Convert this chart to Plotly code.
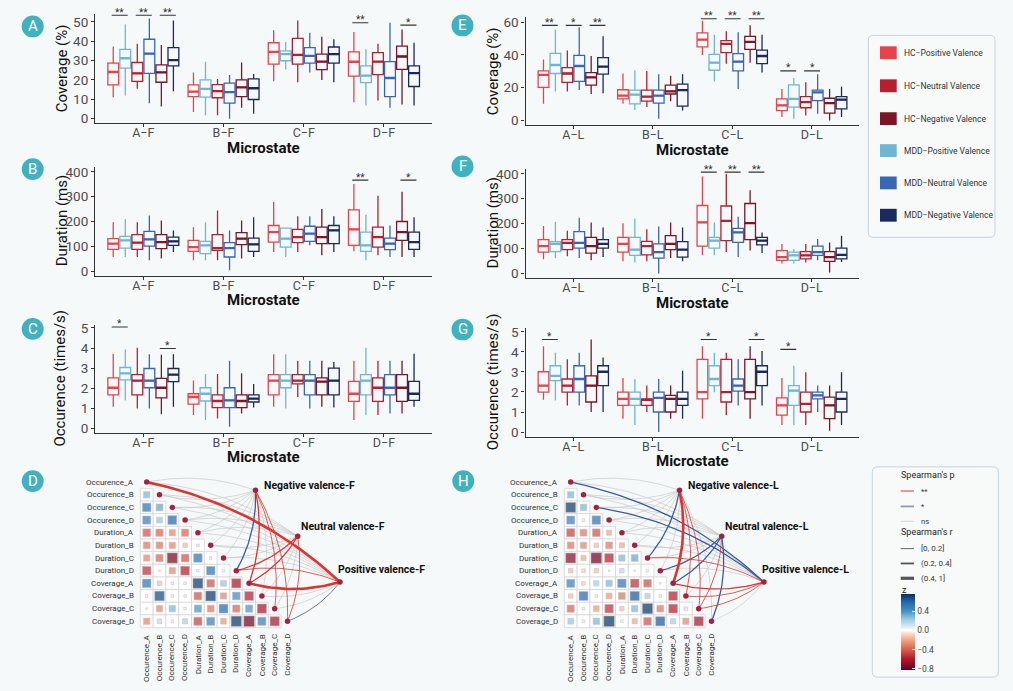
import math
import plotly.graph_objects as go

W, H = 1013, 691
BG = "#f6f9f9"
FONT = "Roboto"

# ---------------- data ----------------
SERIES = ["HC−Positive Valence", "HC−Neutral Valence", "HC−Negative Valence",
          "MDD−Positive Valence", "MDD−Neutral Valence", "MDD−Negative Valence"]
SERIES_COLORS = ["#e8434a", "#b81e2e", "#7c1526", "#6db7d4", "#3967b6", "#1a2a5e"]
BOX_ORDER = [0, 3, 1, 4, 2, 5]   # order of boxes inside each microstate group

CATS_F = ["A−F", "B−F", "C−F", "D−F"]
CATS_L = ["A−L", "B−L", "C−L", "D−L"]

# stats per microstate (rows) x box (cols, in BOX_ORDER)
A_lo = [[11.1, 11.9, 15.4, 8.0, 6.3, 14.2], [3.4, 1.7, 1.7, 0.0, 5.6, 2.6],
        [19.3, 25.4, 18.8, 23.9, 20.0, 18.8], [8.5, 6.8, 9.4, 5.6, 7.3, 6.8]]
A_q1 = [[17.4, 26.1, 19.3, 23.4, 18.8, 27.3], [11.4, 11.1, 10.8, 8.0, 11.4, 9.9],
        [28.2, 29.9, 28.2, 28.7, 25.3, 28.7], [22.0, 18.6, 22.7, 11.4, 25.4, 16.6]]
A_med = [[24.1, 31.2, 23.4, 33.6, 23.9, 30.2], [14.0, 15.4, 14.2, 13.7, 16.2, 15.7],
         [34.5, 33.3, 32.9, 32.4, 29.5, 33.3], [29.4, 22.2, 29.5, 21.0, 32.1, 23.5]]
A_q3 = [[28.7, 35.8, 29.0, 41.0, 27.8, 36.7], [17.4, 20.0, 17.6, 18.3, 20.0, 20.5],
        [39.2, 35.0, 41.5, 36.7, 33.3, 37.0], [34.5, 27.3, 34.1, 29.5, 37.5, 27.3]]
A_hi = [[37.2, 48.6, 38.7, 51.7, 38.0, 50.7], [23.9, 29.4, 20.5, 22.5, 29.0, 23.0],
        [45.6, 39.6, 50.7, 44.4, 42.3, 41.0], [44.7, 35.8, 38.7, 49.5, 46.0, 39.2]]

B_lo = [[57, 57, 57, 44, 51, 77], [44, 44, 44, 4, 51, 57],
        [77, 57, 77, 104, 64, 77], [80, 44, 64, 57, 57, 57]]
B_q1 = [[88, 93, 88, 101, 91, 104], [80, 71, 84, 57, 107, 80],
        [117, 97, 115, 120, 111, 111], [104, 80, 97, 87, 124, 88]]
B_med = [[111, 124, 115, 128, 117, 120], [97, 104, 93, 93, 131, 108],
         [157, 131, 137, 151, 137, 164], [168, 104, 137, 111, 157, 117]]
B_q3 = [[131, 140, 147, 160, 147, 137], [124, 120, 147, 115, 155, 133],
        [184, 173, 168, 181, 177, 184], [247, 157, 177, 133, 200, 157]]
B_hi = [[197, 210, 197, 224, 204, 164], [177, 197, 244, 164, 204, 217],
        [280, 176, 221, 221, 250, 221], [351, 227, 304, 184, 320, 217]]

C_lo = [[1.07, 1.39, 0.98, 0.98, 0.70, 1.07], [0.66, 0.41, 0.49, 0.08, 0.74, 1.03],
        [1.07, 0.98, 1.56, 0.98, 1.07, 1.03], [0.41, 0.66, 0.66, 0.74, 0.74, 1.07]]
C_q1 = [[1.67, 2.41, 1.67, 2.02, 1.52, 2.33], [1.20, 1.36, 1.03, 1.03, 1.03, 1.31],
        [1.67, 2.02, 2.21, 1.67, 1.67, 1.67], [1.34, 1.67, 1.34, 1.67, 1.34, 1.39]]
C_med = [[2.02, 2.74, 2.38, 2.38, 2.02, 2.67], [1.56, 1.72, 1.36, 1.39, 1.36, 1.48],
         [2.38, 2.38, 2.38, 2.38, 2.33, 2.38], [1.72, 2.38, 2.02, 2.02, 2.02, 1.72]]
C_q3 = [[2.51, 3.03, 2.67, 2.98, 2.49, 2.98], [1.72, 2.02, 1.67, 2.02, 1.67, 1.67],
        [2.67, 2.67, 2.67, 2.67, 2.51, 3.00], [2.34, 2.67, 2.51, 2.67, 2.67, 2.34]]
C_hi = [[3.72, 3.93, 4.02, 3.69, 3.66, 3.69], [2.38, 2.70, 2.70, 3.36, 2.74, 2.21],
        [3.69, 3.69, 3.36, 3.36, 3.36, 3.31], [3.36, 4.02, 3.36, 3.36, 3.36, 3.72]]

E_lo = [[10.1, 17.7, 17.7, 18.5, 16.1, 16.5], [10.1, 6.4, 8.1, 1.0, 11.7, 6.0],
        [39.9, 23.8, 34.6, 19.1, 35.2, 29.2], [2.0, 1.0, 3.0, 4.0, 0.0, 2.0]]
E_q1 = [[20.1, 28.6, 23.2, 23.8, 21.5, 28.2], [13.1, 10.1, 11.7, 10.5, 16.1, 8.7],
        [44.9, 30.6, 41.3, 30.2, 43.3, 34.6], [6.0, 8.1, 7.7, 12.1, 4.4, 7.0]]
E_med = [[27.8, 33.8, 28.6, 33.2, 26.2, 32.8], [15.1, 15.7, 14.5, 15.1, 17.7, 18.5],
         [49.3, 35.2, 46.7, 35.8, 47.9, 39.3], [9.1, 13.1, 11.1, 17.1, 10.5, 12.7]]
E_q3 = [[30.2, 40.9, 32.2, 39.7, 29.2, 38.3], [18.7, 18.5, 18.5, 18.5, 21.5, 22.1],
        [53.4, 40.3, 48.7, 40.7, 51.3, 42.9], [13.1, 21.7, 14.5, 18.5, 13.5, 14.5]]
E_hi = [[37.2, 55.4, 42.7, 56.8, 39.3, 51.3], [28.6, 30.6, 30.2, 28.2, 27.2, 28.2],
        [60.8, 52.3, 54.4, 53.8, 58.0, 52.3], [19.1, 25.8, 23.2, 28.2, 19.1, 20.5]]

F_lo = [[57, 62, 69, 62, 53, 66], [49, 44, 49, 0, 62, 49],
        [73, 73, 86, 66, 92, 82], [40, 40, 44, 53, 4, 46]]
F_q1 = [[86, 88, 96, 102, 82, 102], [86, 73, 75, 62, 96, 66],
        [110, 102, 132, 125, 136, 115], [53, 53, 59, 73, 49, 59]]
F_med = [[110, 119, 123, 123, 110, 119], [119, 96, 110, 86, 119, 96],
         [205, 132, 211, 165, 202, 132], [66, 73, 73, 86, 66, 75]]
F_q3 = [[136, 128, 136, 168, 145, 136], [145, 145, 129, 119, 152, 128],
        [273, 145, 271, 181, 281, 145], [92, 86, 88, 110, 88, 102]]
F_hi = [[191, 207, 172, 224, 205, 185], [202, 221, 178, 189, 205, 185],
        [389, 205, 400, 228, 334, 165], [119, 99, 119, 139, 125, 152]]

G_lo = [[1.61, 1.58, 1.33, 1.33, 1.00, 1.00], [0.67, 0.35, 1.00, 0.00, 0.67, 0.67],
        [0.67, 1.99, 0.84, 1.33, 0.67, 1.33], [0.35, 0.35, 0.35, 1.00, 0.07, 0.35]]
G_q1 = [[1.99, 2.57, 1.99, 1.99, 1.50, 2.32], [1.33, 1.33, 1.33, 1.00, 1.00, 1.33],
        [1.66, 2.32, 1.50, 2.04, 1.66, 2.32], [0.84, 1.33, 1.00, 1.66, 0.67, 1.00]]
G_med = [[2.32, 2.81, 2.32, 2.65, 2.32, 3.01], [1.66, 1.66, 1.61, 1.71, 1.66, 1.66],
         [1.99, 2.65, 1.99, 2.32, 1.99, 3.01], [1.33, 2.07, 1.41, 1.83, 1.33, 1.66]]
G_q3 = [[3.01, 3.31, 2.65, 3.31, 2.81, 3.31], [1.99, 1.99, 1.66, 1.99, 1.83, 1.99],
        [3.63, 3.31, 3.63, 2.65, 3.63, 3.31], [1.71, 2.32, 1.99, 1.99, 1.74, 1.99]]
G_hi = [[4.29, 3.96, 3.63, 3.96, 4.62, 3.72], [2.70, 2.65, 2.32, 2.65, 2.32, 3.06],
        [4.29, 3.96, 3.96, 3.63, 4.29, 4.05], [2.70, 3.31, 2.98, 2.32, 2.32, 2.98]]

# significance: (microstate index, valence pair index, bar height, label)
A_SIG = [(0, 0, 53.4, "**"), (0, 1, 53.4, "**"), (0, 2, 53.4, "**"), (3, 0, 49.5, "**"), (3, 2, 48.3, "*")]
B_SIG = [(3, 0, 366.7, "**"), (3, 2, 366.7, "*")]
C_SIG = [(0, 0, 5.05, "*"), (0, 2, 3.98, "*")]
E_SIG = [(0, 0, 58, "**"), (0, 1, 58, "*"), (0, 2, 58, "**"), (2, 0, 62, "**"), (2, 1, 62, "**"),
         (2, 2, 62, "**"), (3, 0, 30.2, "*"), (3, 1, 30.2, "*")]
F_SIG = [(2, 0, 406.6, "**"), (2, 1, 406.6, "**"), (2, 2, 406.6, "**")]
G_SIG = [(0, 0, 4.62, "*"), (2, 0, 4.62, "*"), (2, 2, 4.62, "*"), (3, 0, 4.13, "*")]

# correlation matrices (lower triangle; row i has i values)
VARS = ["Occurence_A", "Occurence_B", "Occurence_C", "Occurence_D",
        "Duration_A", "Duration_B", "Duration_C", "Duration_D",
        "Coverage_A", "Coverage_B", "Coverage_C", "Coverage_D"]
D_R = [
    [],
    [0.30],
    [0.55, 0.35],
    [0.50, 0.25, 0.60],
    [-0.45, -0.40, -0.30, -0.40],
    [-0.35, -0.35, -0.30, -0.15, -0.05],
    [-0.30, -0.40, -0.80, -0.45, 0.55, 0.05],
    [-0.55, 0.02, -0.30, -0.60, 0.05, 0.55, 0.05],
    [0.55, -0.15, 0.05, 0.05, 0.75, -0.45, 0.25, -0.65],
    [0.05, 0.70, 0.05, 0.05, -0.45, 0.75, -0.30, 0.45, -0.60],
    [0.02, -0.30, 0.30, 0.05, 0.40, -0.35, 0.60, -0.40, 0.40, -0.65],
    [-0.30, 0.15, 0.05, 0.20, -0.50, 0.50, -0.25, 0.80, -0.85, 0.50, -0.65],
]
H_R = [
    [],
    [0.30],
    [0.75, 0.30],
    [0.50, 0.05, 0.55],
    [-0.50, -0.35, -0.45, -0.20],
    [-0.35, -0.30, -0.15, -0.35, -0.20],
    [-0.75, -0.20, -0.85, -0.60, 0.30, 0.35],
    [-0.15, -0.10, -0.15, 0.02, 0.15, 0.02, 0.05],
    [0.50, -0.10, 0.20, 0.30, 0.55, -0.55, -0.45, 0.02],
    [-0.15, 0.60, 0.05, -0.25, -0.35, 0.65, 0.20, 0.05, -0.60],
    [-0.40, 0.05, -0.25, -0.55, -0.15, 0.30, 0.80, -0.35, -0.60, 0.10],
    [0.25, 0.05, 0.30, 0.85, 0.05, -0.20, -0.45, 0.65, 0.20, -0.30, -0.65],
]

VALENCES = ["Negative", "Neutral", "Positive"]
# non-ns links: (valence, variable, p-level, r-bin 0..2); all others are ns
D_LINKS = [("Negative", "Duration_D", "*", 1), ("Negative", "Coverage_A", "**", 1),
           ("Negative", "Coverage_C", "**", 0), ("Negative", "Coverage_D", "**", 0),
           ("Neutral", "Duration_D", "**", 1), ("Neutral", "Coverage_A", "**", 1),
           ("Neutral", "Coverage_D", "**", 0),
           ("Positive", "Occurence_A", "**", 2), ("Positive", "Coverage_A", "**", 2),
           ("Positive", "Duration_D", "**", 0), ("Positive", "Coverage_D", "*", 0)]
H_LINKS = [("Negative", "Duration_C", "*", 1), ("Negative", "Coverage_A", "**", 2),
           ("Negative", "Coverage_B", "**", 0), ("Negative", "Coverage_C", "**", 0),
           ("Neutral", "Duration_D", "*", 1), ("Neutral", "Coverage_A", "*", 1),
           ("Neutral", "Coverage_D", "*", 1), ("Neutral", "Coverage_C", "**", 0),
           ("Positive", "Occurence_A", "*", 1), ("Positive", "Occurence_C", "*", 1),
           ("Positive", "Duration_C", "**", 0), ("Positive", "Coverage_A", "**", 1),
           ("Positive", "Coverage_B", "**", 0), ("Positive", "Coverage_C", "**", 0)]

P_LABELS = ["**", "*", "ns"]
R_LABELS = ["[0, 0.2]", "(0.2, 0.4]", "(0.4, 1]"]
CB_TICKS = [-0.8, -0.4, 0.0, 0.4]

# ---------------- styling / layout constants ----------------
DODGE = 0.15
BOXW = 0.135
CELL_PX = 12.8
NODE_COLOR = "#a3233f"
P_COLORS = {"**": "#dd3430", "*": "#3a5ba3", "ns": "#c9c9c9"}
R_WIDTHS = [0.8, 1.3, 2.6]
CB_MIN, CB_MAX = -0.83, 0.76
CB_STOPS = [(-0.83, "#67001f"), (-0.6, "#b2182b"), (-0.4, "#d6604d"), (-0.2, "#f4a582"),
            (-0.07, "#fddbc7"), (0.0, "#ffffff"), (0.1, "#d1e5f0"), (0.25, "#92c5de"),
            (0.4, "#4393c3"), (0.6, "#2166ac"), (0.76, "#053061")]
COLORSCALE = [[(v - CB_MIN) / (CB_MAX - CB_MIN), c] for v, c in CB_STOPS]

PANELS = [
    dict(letter="A", st=(A_lo, A_q1, A_med, A_q3, A_hi), sig=A_SIG, cats=CATS_F, yt="Coverage (%)",
         ticks=[0, 10, 20, 30, 40, 50], yr=[-2.2, 54.2], xpx=(95.2, 432.1), ypx=(8.8, 119.3),
         circ=(32.7, 21.7), ytx=62),
    dict(letter="B", st=(B_lo, B_q1, B_med, B_q3, B_hi), sig=B_SIG, cats=CATS_F, yt="Duration (ms)",
         ticks=[0, 100, 200, 300, 400], yr=[-18, 420], xpx=(95.2, 432.1), ypx=(163.8, 273.8),
         circ=(32.7, 166), ytx=62),
    dict(letter="C", st=(C_lo, C_q1, C_med, C_q3, C_hi), sig=C_SIG, cats=CATS_F, yt="Occurence (times/s)",
         ticks=[0, 1, 2, 3, 4, 5], yr=[-0.22, 5.17], xpx=(95.2, 432.1), ypx=(323.3, 432.7),
         circ=(32.7, 327.7), ytx=60),
    dict(letter="E", st=(E_lo, E_q1, E_med, E_q3, E_hi), sig=E_SIG, cats=CATS_L, yt="Coverage (%)",
         ticks=[0, 20, 40, 60], yr=[-3, 63], xpx=(525.6, 859.4), ypx=(12.3, 121.7),
         circ=(462.5, 20.7), ytx=493),
    dict(letter="F", st=(F_lo, F_q1, F_med, F_q3, F_hi), sig=F_SIG, cats=CATS_L, yt="Duration (ms)",
         ticks=[0, 100, 200, 300, 400], yr=[-17, 419], xpx=(525.6, 859.4), ypx=(166, 276),
         circ=(462.5, 163.3), ytx=493),
    dict(letter="G", st=(G_lo, G_q1, G_med, G_q3, G_hi), sig=G_SIG, cats=CATS_L, yt="Occurence (times/s)",
         ticks=[0, 1, 2, 3, 4, 5], yr=[-0.23, 5.2], xpx=(525.6, 859.4), ypx=(326.7, 436.7),
         circ=(462.5, 328.3), ytx=493),
]


def PX(px):
    return px / W


def PY(py):
    return 1 - py / H


def axn(i):
    s = "" if i == 1 else str(i)
    return "x" + s, "y" + s, "xaxis" + s, "yaxis" + s


fig = go.Figure()
layout = dict(width=W, height=H, margin=dict(l=0, r=0, t=0, b=0), paper_bgcolor=BG, plot_bgcolor=BG,
              showlegend=False, font=dict(family=FONT, color="#222222"))
annotations, shapes = [], []


def letter_circle(letter, cx, cy, r=11):
    shapes.append(dict(type="circle", xref="paper", yref="paper", x0=PX(cx - r), x1=PX(cx + r),
                       y0=PY(cy + r), y1=PY(cy - r), fillcolor="#3fb1bf", line=dict(width=0)))
    annotations.append(dict(x=PX(cx), y=PY(cy), xref="paper", yref="paper", text=letter, showarrow=False,
                            font=dict(size=15, color="white", family=FONT), xanchor="center", yanchor="middle"))


# ---------------- box panels ----------------
for i, P in enumerate(PANELS, start=1):
    xr, yr, xk, yk = axn(i)
    layout[xk] = dict(domain=[PX(P["xpx"][0]), PX(P["xpx"][1])], anchor=yr, range=[-0.6, 3.6],
                      tickmode="array", tickvals=[0, 1, 2, 3], ticktext=P["cats"], showline=True,
                      linecolor="#333333", linewidth=1.4, ticks="outside", ticklen=3, tickcolor="#333333",
                      showgrid=False, zeroline=False, tickfont=dict(size=12.5, color="#4d4d4d"),
                      ticklabelstandoff=-5)
    layout[yk] = dict(domain=[PY(P["ypx"][1]), PY(P["ypx"][0])], anchor=xr, range=P["yr"],
                      tickmode="array", tickvals=P["ticks"], showline=True, linecolor="#333333",
                      linewidth=1.4, ticks="outside", ticklen=3, tickcolor="#333333", showgrid=False,
                      zeroline=False, tickfont=dict(size=13.5, color="#4d4d4d"))
    lo, q1, med, q3, hi = P["st"]
    for k, si in enumerate(BOX_ORDER):
        col = SERIES_COLORS[si]
        xs = [g + (k - 2.5) * DODGE for g in range(4)]
        fig.add_trace(go.Box(x=xs, q1=[q1[g][k] for g in range(4)], median=[med[g][k] for g in range(4)],
                             q3=[q3[g][k] for g in range(4)], lowerfence=[lo[g][k] for g in range(4)],
                             upperfence=[hi[g][k] for g in range(4)], width=BOXW, whiskerwidth=0,
                             line=dict(color=col, width=1.3), fillcolor="rgba(255,255,255,0)",
                             boxpoints=False, hoverinfo="skip", name=SERIES[si], xaxis=xr, yaxis=yr))
        mx, my = [], []
        for g in range(4):
            mx += [xs[g] - BOXW / 2, xs[g] + BOXW / 2, None]
            my += [med[g][k], med[g][k], None]
        fig.add_trace(go.Scatter(x=mx, y=my, mode="lines", line=dict(color=col, width=2.3),
                                 hoverinfo="skip", xaxis=xr, yaxis=yr))
    # significance bars
    sx, sy = [], []
    for g, p, yv, lab in P["sig"]:
        c1 = g + (2 * p - 2.5) * DODGE
        c2 = g + (2 * p + 1 - 2.5) * DODGE
        x0, x1 = c1 - 0.02, c2 + 0.03
        sx += [x0, x1, None]
        sy += [yv, yv, None]
        annotations.append(dict(x=(x0 + x1) / 2, y=yv, xref=xr, yref=yr, text=lab, showarrow=False,
                                font=dict(size=10, color="#333333"), xanchor="center", yanchor="middle",
                                yshift=3))
    fig.add_trace(go.Scatter(x=sx, y=sy, mode="lines", line=dict(color="#333333", width=1.1),
                             hoverinfo="skip", xaxis=xr, yaxis=yr))
    # titles
    yc = (P["ypx"][0] + P["ypx"][1]) / 2
    annotations.append(dict(x=PX(P["ytx"]), y=PY(yc), xref="paper", yref="paper", text=P["yt"],
                            textangle=-90, showarrow=False, font=dict(size=15, color="#111111"),
                            xanchor="center", yanchor="middle"))
    xc = (P["xpx"][0] + P["xpx"][1]) / 2
    annotations.append(dict(x=PX(xc), y=PY(P["ypx"][1] + 25), xref="paper", yref="paper",
                            text="<b>Microstate</b>", showarrow=False, font=dict(size=15, color="#111111"),
                            xanchor="center", yanchor="middle", borderpad=0))
    letter_circle(P["letter"], *P["circ"])


# ---------------- correlation / link panels ----------------
VAL_POS = {"Negative": (8.5, 0.65), "Neutral": (11.8, 4.27), "Positive": (15.1, 7.9)}
VAL_LABEL_SHIFT = {"Negative": (6, -5), "Neutral": (1, -10), "Positive": (-4, -13)}
ROW0_PX = 482.7


def bezier(S, E, k=0.14, n=30):
    dc, dr = E[0] - S[0], E[1] - S[1]
    sgn = 1 if dr > 0 else -1
    mx, my = (S[0] + E[0]) / 2, (S[1] + E[1]) / 2
    cx, cy = mx + sgn * k * dr, my - sgn * k * dc
    xs, ys = [], []
    for j in range(n + 1):
        t = j / n
        xs.append((1 - t) ** 2 * S[0] + 2 * (1 - t) * t * cx + t ** 2 * E[0])
        ys.append((1 - t) ** 2 * S[1] + 2 * (1 - t) * t * cy + t ** 2 * E[1])
    return xs, ys


def matrix_panel(n, R, links, suffix, xpx, col0_px, letter, circ, show_scale):
    xr, yr, xk, yk = axn(n)
    layout[xk] = dict(domain=[PX(xpx[0]), PX(xpx[1])], anchor=yr,
                      range=[(xpx[0] - col0_px) / CELL_PX, (xpx[1] - col0_px) / CELL_PX], visible=False)
    layout[yk] = dict(domain=[PY(691), PY(462)], anchor=xr,
                      range=[(691 - ROW0_PX) / CELL_PX, (462 - ROW0_PX) / CELL_PX], visible=False)
    sig = {(v, var): (p, b) for v, var, p, b in links}
    groups = {}
    for v in VALENCES:
        for idx, var in enumerate(VARS):
            p, b = sig.get((v, var), ("ns", 0))
            xs, ys = bezier(VAL_POS[v], (idx, idx))
            g = groups.setdefault((p, b), ([], []))
            g[0].extend(xs + [None])
            g[1].extend(ys + [None])
    order = {"ns": 0, "*": 1, "**": 2}
    for (p, b) in sorted(groups, key=lambda t: (order[t[0]], t[1])):
        gx, gy = groups[(p, b)]
        w = 0.7 if p == "ns" else R_WIDTHS[b]
        fig.add_trace(go.Scatter(x=gx, y=gy, mode="lines", line=dict(color=P_COLORS[p], width=w),
                                 hoverinfo="skip", xaxis=xr, yaxis=yr))
    gx, gy, vx, vy, vv, vs = [], [], [], [], [], []
    for r in range(1, len(VARS)):
        for c in range(r):
            gx.append(c)
            gy.append(r)
            val = R[r][c]
            vx.append(c)
            vy.append(r)
            vv.append(val)
            vs.append(CELL_PX * 0.9 * math.sqrt(abs(val)))
    fig.add_trace(go.Scatter(x=gx, y=gy, mode="markers",
                             marker=dict(symbol="square", size=CELL_PX, color="white",
                                         line=dict(color="#d6d6d6", width=0.8)),
                             hoverinfo="skip", xaxis=xr, yaxis=yr))
    mk = dict(symbol="square", size=vs, color=vv, colorscale=COLORSCALE, cmin=CB_MIN, cmax=CB_MAX,
              line=dict(color="#a0a0a0", width=0.5), showscale=show_scale)
    if show_scale:
        mk["colorbar"] = dict(x=PX(900.7), xanchor="left", xpad=0, y=PY(634.5), yanchor="middle", ypad=0,
                              len=75.6, lenmode="pixels", thickness=14, thicknessmode="pixels",
                              outlinewidth=0, tickmode="array", tickvals=CB_TICKS,
                              ticktext=["−0.8", "−0.4", "0.0", "0.4"], ticks="inside", ticklen=3,
                              tickcolor="white", tickfont=dict(size=8.5, color="#444444", family=FONT),
                              title=dict(text=""))
    fig.add_trace(go.Scatter(x=vx, y=vy, mode="markers", marker=mk, hoverinfo="skip", xaxis=xr, yaxis=yr))
    nx = list(range(len(VARS))) + [VAL_POS[v][0] for v in VALENCES]
    ny = list(range(len(VARS))) + [VAL_POS[v][1] for v in VALENCES]
    fig.add_trace(go.Scatter(x=nx, y=ny, mode="markers", marker=dict(size=5.5, color=NODE_COLOR),
                             hoverinfo="skip", xaxis=xr, yaxis=yr))
    for idx, var in enumerate(VARS):
        annotations.append(dict(x=-0.9, y=idx, xref=xr, yref=yr, text=var, showarrow=False,
                                font=dict(size=8, color="#333333"), xanchor="right", yanchor="middle",
                                borderpad=0))
        annotations.append(dict(x=idx, y=11.95, xref=xr, yref=yr, text=var, showarrow=False, textangle=-90,
                                font=dict(size=8, color="#333333"), xanchor="center", yanchor="top",
                                borderpad=0))
    for v in VALENCES:
        dx, dy = VAL_LABEL_SHIFT[v]
        annotations.append(dict(x=VAL_POS[v][0], y=VAL_POS[v][1], xref=xr, yref=yr,
                                text="<b>%s valence-%s</b>" % (v, suffix), showarrow=False,
                                font=dict(size=10.5, color="#111111"), xanchor="left", yanchor="middle",
                                xshift=dx, yshift=-dy))
    letter_circle(letter, *circ)


matrix_panel(7, D_R, D_LINKS, "F", (60.0, 440.0), 146.7, "D", (32.7, 481.7), True)
matrix_panel(8, H_R, H_LINKS, "L", (485.0, 862.0), 570.7, "H", (463.3, 481.7), False)


# ---------------- legends ----------------
def rrect(x0, y0, x1, y1, r=5):
    def p(x, y):
        return "%.5f,%.5f" % (PX(x), PY(y))
    path = ("M " + p(x0 + r, y0) + " L " + p(x1 - r, y0) + " Q " + p(x1, y0) + " " + p(x1, y0 + r) +
            " L " + p(x1, y1 - r) + " Q " + p(x1, y1) + " " + p(x1 - r, y1) +
            " L " + p(x0 + r, y1) + " Q " + p(x0, y1) + " " + p(x0, y1 - r) +
            " L " + p(x0, y0 + r) + " Q " + p(x0, y0) + " " + p(x0 + r, y0) + " Z")
    shapes.append(dict(type="path", xref="paper", yref="paper", path=path,
                       line=dict(color="#c3d2e2", width=1), fillcolor="rgba(255,255,255,0.25)"))


rrect(868.3, 30.7, 995, 235)
LEG_Y = [48.3, 81.7, 115, 147.3, 180, 212.7]
for j, si in enumerate([0, 1, 2, 3, 4, 5]):
    yc = LEG_Y[j]
    shapes.append(dict(type="rect", xref="paper", yref="paper", x0=PX(880), x1=PX(896.7),
                       y0=PY(yc + 6.5), y1=PY(yc - 6.5), fillcolor=SERIES_COLORS[si], line=dict(width=0)))
    annotations.append(dict(x=PX(901.7), y=PY(yc), xref="paper", yref="paper", text=SERIES[si],
                            showarrow=False, font=dict(size=8.5, color="#333333"), xanchor="left",
                            yanchor="middle"))

rrect(872.3, 467.3, 998.3, 680)
annotations.append(dict(x=PX(899), y=PY(475.5), xref="paper", yref="paper", text="Spearman's p",
                        showarrow=False, font=dict(size=9, color="#222222"), xanchor="left", yanchor="middle"))
for j, (lab, yy) in enumerate(zip(P_LABELS, [491.7, 507.3, 522.3])):
    shapes.append(dict(type="line", xref="paper", yref="paper", x0=PX(900.7), x1=PX(914), y0=PY(yy), y1=PY(yy),
                       line=dict(color=P_COLORS[lab] if lab != "*" else "#8a9ab8", width=[1, 1.8, 0.8][j])))
    annotations.append(dict(x=PX(919), y=PY(yy), xref="paper", yref="paper", text=lab, showarrow=False,
                            font=dict(size=7.5, color="#333333"), xanchor="left", yanchor="middle"))
annotations.append(dict(x=PX(899), y=PY(533), xref="paper", yref="paper", text="Spearman's r",
                        showarrow=False, font=dict(size=9, color="#222222"), xanchor="left", yanchor="middle"))
for j, (lab, yy) in enumerate(zip(R_LABELS, [550, 565, 580])):
    shapes.append(dict(type="line", xref="paper", yref="paper", x0=PX(900.7), x1=PX(914), y0=PY(yy), y1=PY(yy),
                       line=dict(color="#555555", width=[0.9, 1.8, 3.2][j])))
    annotations.append(dict(x=PX(919), y=PY(yy), xref="paper", yref="paper", text=lab, showarrow=False,
                            font=dict(size=8, color="#333333"), xanchor="left", yanchor="middle"))
annotations.append(dict(x=PX(900), y=PY(591.5), xref="paper", yref="paper", text="z",
                        showarrow=False, font=dict(size=9, color="#222222"), xanchor="left", yanchor="middle"))

layout["annotations"] = annotations
layout["shapes"] = shapes
fig.update_layout(**layout)
fig.write_html("out.html", config={"displayModeBar": False},
               post_script="document.body.style.margin='0px';document.body.style.padding='0px';"
                           "document.body.style.overflow='hidden';document.body.style.background='%s';" % BG)
